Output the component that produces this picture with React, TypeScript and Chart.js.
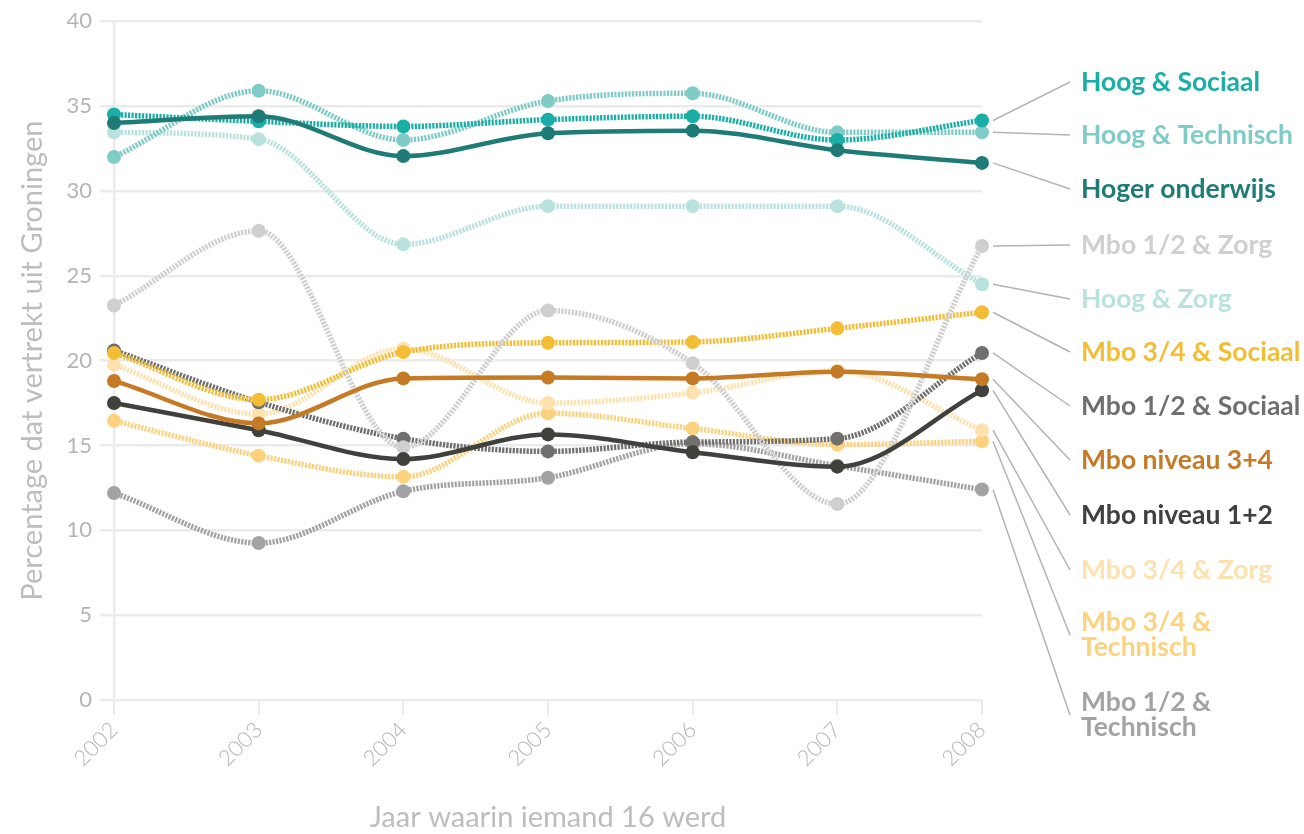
import React, { useEffect, useRef } from "react";
import { Chart, registerables } from "chart.js";

Chart.register(...registerables);

// ---------- data ----------
const years = ["2002", "2003", "2004", "2005", "2006", "2007", "2008"];

const seriesNames = [
  "Hoog & Sociaal",
  "Hoog & Technisch",
  "Hoger onderwijs",
  "Mbo 1/2 & Zorg",
  "Hoog & Zorg",
  "Mbo 3/4 & Sociaal",
  "Mbo 1/2 & Sociaal",
  "Mbo niveau 3+4",
  "Mbo niveau 1+2",
  "Mbo 3/4 & Zorg",
  "Mbo 3/4 & Technisch",
  "Mbo 1/2 & Technisch",
];

const hoogSociaal = [34.5, 34.1, 33.8, 34.2, 34.4, 33.0, 34.15];
const hoogTechnisch = [32.0, 35.9, 33.0, 35.3, 35.75, 33.45, 33.45];
const hogerOnderwijs = [34.0, 34.4, 32.05, 33.4, 33.55, 32.4, 31.65];
const mbo12Zorg = [23.25, 27.65, 14.9, 22.95, 19.85, 11.55, 26.75];
const hoogZorg = [33.45, 33.05, 26.85, 29.1, 29.1, 29.1, 24.5];
const mbo34Sociaal = [20.45, 17.7, 20.5, 21.05, 21.1, 21.9, 22.85];
const mbo12Sociaal = [20.6, 17.55, 15.4, 14.65, 15.2, 15.4, 20.45];
const mboNiveau34 = [18.8, 16.3, 18.95, 19.0, 18.95, 19.35, 18.9];
const mboNiveau12 = [17.5, 15.9, 14.2, 15.65, 14.6, 13.75, 18.25];
const mbo34Zorg = [19.75, 16.85, 20.7, 17.5, 18.1, 19.4, 15.9];
const mbo34Technisch = [16.45, 14.4, 13.15, 16.9, 16.0, 15.05, 15.25];
const mbo12Technisch = [12.2, 9.25, 12.3, 13.1, 15.1, 13.8, 12.4];

const seriesValues = [
  hoogSociaal,
  hoogTechnisch,
  hogerOnderwijs,
  mbo12Zorg,
  hoogZorg,
  mbo34Sociaal,
  mbo12Sociaal,
  mboNiveau34,
  mboNiveau12,
  mbo34Zorg,
  mbo34Technisch,
  mbo12Technisch,
];

const yTicks = [0, 5, 10, 15, 20, 25, 30, 35, 40];

// ---------- styles ----------
const seriesColors = [
  "#1aafa6",
  "#7fcbc5",
  "#1f7b76",
  "#cfcfcf",
  "#b9e2df",
  "#f3bd35",
  "#6f6f6d",
  "#c57a26",
  "#40403c",
  "#fde2b0",
  "#fcd27e",
  "#a3a3a3",
];
const seriesSolid = [false, false, true, false, false, false, false, true, true, false, false, false];

// label text lines and their vertical centres (layout)
const labelLines: string[][] = [
  ["Hoog & Sociaal"],
  ["Hoog & Technisch"],
  ["Hoger onderwijs"],
  ["Mbo 1/2 & Zorg"],
  ["Hoog & Zorg"],
  ["Mbo 3/4 & Sociaal"],
  ["Mbo 1/2 & Sociaal"],
  ["Mbo niveau 3+4"],
  ["Mbo niveau 1+2"],
  ["Mbo 3/4 & Zorg"],
  ["Mbo 3/4 &", "Technisch"],
  ["Mbo 1/2 &", "Technisch"],
];
const labelCenters = [82, 135, 189, 245, 299, 352, 406, 460, 515, 570, 635, 715];
const LABEL_X = 1081;
const LEADER_END_X = 1070;
const LABEL_LINE_H = 24.5;
const LABEL_FONT = "bold 26.5px Lato";

const endLabelsPlugin = {
  id: "endLabels",
  afterDatasetsDraw(chart: any) {
    const ctx = chart.ctx as CanvasRenderingContext2D;
    ctx.save();
    chart.data.datasets.forEach((ds: any, i: number) => {
      const meta = chart.getDatasetMeta(i);
      const last = meta.data[meta.data.length - 1];
      const cy = labelCenters[i];
      ctx.strokeStyle = "#b3b3b3";
      ctx.lineWidth = 1.5;
      ctx.setLineDash([]);
      ctx.beginPath();
      ctx.moveTo(last.x + 11, last.y);
      ctx.lineTo(LEADER_END_X, cy);
      ctx.stroke();

      const lines = labelLines[i];
      ctx.font = LABEL_FONT;
      ctx.fillStyle = seriesColors[i];
      ctx.textAlign = "left";
      ctx.textBaseline = "middle";
      const startY = cy - ((lines.length - 1) * LABEL_LINE_H) / 2;
      lines.forEach((t, k) => {
        ctx.fillText(t, LABEL_X, startY + k * LABEL_LINE_H);
      });
    });
    ctx.restore();
  },
};

export default function App() {
  const canvasRef = useRef<HTMLCanvasElement | null>(null);

  useEffect(() => {
    if (!canvasRef.current) return;
    const datasets = seriesValues.map((vals, i) => ({
      label: seriesNames[i],
      data: vals,
      borderColor: seriesColors[i],
      backgroundColor: seriesColors[i],
      pointBackgroundColor: seriesColors[i],
      pointBorderWidth: 0,
      pointRadius: 7,
      borderWidth: seriesSolid[i] ? 4.5 : 5.5,
      borderDash: seriesSolid[i] ? [] : [2.2, 1.3],
      cubicInterpolationMode: "monotone",
      fill: false,
      order: seriesSolid[i] ? 0 : 1,
    }));

    const chart = new Chart(canvasRef.current, {
      type: "line",
      data: { labels: years, datasets },
      plugins: [endLabelsPlugin],
      options: {
        responsive: false,
        animation: false,
        devicePixelRatio: 1,
        layout: { padding: { top: 17, right: 322, left: 0, bottom: 0 } },
        plugins: {
          legend: { display: false },
          tooltip: { enabled: false },
        },
        scales: {
          x: {
            type: "category",
            offset: false,
            grid: {
              display: true,
              drawOnChartArea: false,
              drawTicks: true,
              tickLength: 15,
              color: "#ebebeb",
              lineWidth: 2,
            },
            border: { display: false },
            ticks: {
              color: "#b5b5b5",
              font: { family: "Lato", size: 22, weight: "300" },
              maxRotation: 45,
              minRotation: 45,
              padding: 2,
              autoSkip: false,
            },
            title: {
              display: true,
              text: "Jaar waarin iemand 16 werd",
              color: "#bdbdbd",
              font: { family: "Lato", size: 29, weight: "400", lineHeight: 1.1 },
              padding: { top: 0, bottom: 0 },
            },
            afterFit(scale: any) {
              scale.height = 134;
            },
          },
          y: {
            min: 0,
            max: 40,
            afterBuildTicks(scale: any) {
              scale.ticks = yTicks.map((v) => ({ value: v }));
            },
            grid: {
              color: "#ebebeb",
              lineWidth: 2.5,
              tickLength: 14,
            },
            border: { display: true, color: "#ebebeb", width: 2.5 },
            ticks: {
              color: "#b5b5b5",
              font: { family: "Lato", size: 22, weight: "400" },
              padding: 8,
            },
            title: {
              display: true,
              text: "Percentage dat vertrekt uit Groningen",
              color: "#bdbdbd",
              font: { family: "Lato", size: 29, weight: "400" },
              padding: { top: 15, bottom: 0 },
            },
            afterFit(scale: any) {
              scale.width = 114;
            },
          },
        },
      },
    } as any);

    return () => chart.destroy();
  }, []);

  return (
    <div style={{ position: "fixed", left: 0, top: 0, width: 1304, height: 834, background: "#fff" }}>
      <canvas ref={canvasRef} width={1304} height={834} />
    </div>
  );
}
